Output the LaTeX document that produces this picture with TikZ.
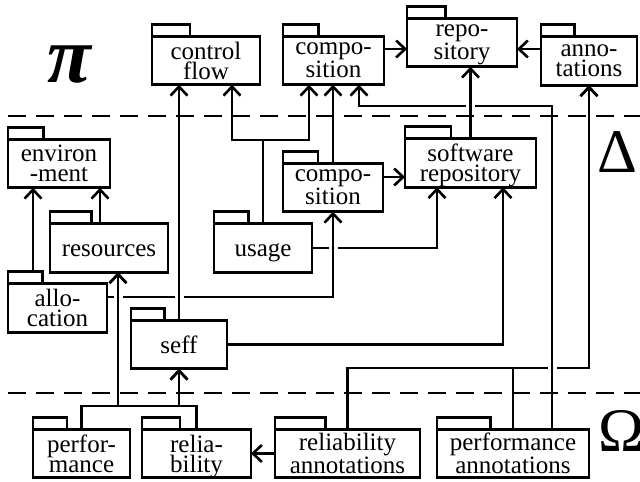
\documentclass[tikz,border=0pt]{standalone}
\usepackage{fontspec}
\setmainfont{Liberation Serif}
\usetikzlibrary{arrows.meta,calc}
\tikzset{
  pkg/.style={draw, line width=2.6pt, rectangle, inner sep=0pt, outer sep=0pt,
    minimum height=48.5pt, align=center, text depth=0pt,
    font=\fontsize{25}{20}\selectfont,
    append after command={\pgfextra{
      \draw[line width=2.6pt] let \p1=(\tikzlastnode.north west),
        \p2=(\tikzlastnode.north east) in
        (\p1) rectangle (0.65*\x1+0.35*\x2, \y1+12pt);}}},
  one/.style={text height=17pt},
  arr/.style={line width=2.6pt, -{Straight Barb[length=9pt,width=17pt]}},
  over/.style={preaction={draw=white, line width=9pt, -, shorten <=6pt, shorten >=6pt}},
  sep/.style={line width=2.6pt, dash pattern=on 18pt off 10pt},
  greek/.style={inner sep=0pt, font=\fontsize{62}{62}\selectfont}
}
\begin{document}
\begin{tikzpicture}[x=1pt,y=-1pt]
  \useasboundingbox (0,0) rectangle (640,482);
  \node[pkg, minimum width=108pt] (cflow) at (206,60.5) {control\\flow};
  \node[pkg, minimum width=101pt] (comptop) at (333.5,60.5) {compo-\\sition};
  \node[pkg, minimum width=110pt] (repo) at (462,42.5) {repo-\\sitory};
  \node[pkg, minimum width=96pt] (annot) at (589,61) {anno-\\tations};
  \node[pkg, minimum width=102pt] (env) at (59,163.5) {environ\\-ment};
  \node[pkg, one, minimum width=118pt] (res) at (109,248) {resources};
  \node[pkg, minimum width=99pt] (alloc) at (57.5,308) {allo-\\cation};
  \node[pkg, one, minimum width=98pt] (usage) at (263,248) {usage};
  \node[pkg, minimum width=100pt] (compmid) at (333,187.5) {compo-\\sition};
  \node[pkg, minimum width=131pt] (softrep) at (470.5,163) {software\\repository};
  \node[pkg, minimum width=96pt] (seff) at (179,344.5) {seff};
  \node[pkg, minimum width=97pt] (perf) at (81.5,453.5) {perfor-\\mance};
  \node[pkg, minimum width=109pt] (rel) at (196.5,453.5) {relia-\\bility};
  \node[pkg, minimum width=145pt] (relannot) at (347.5,453.5) {reliability\\annotations};
  \node[pkg, minimum width=152pt] (perfannot) at (513,453.5) {performance\\annotations};
  \node[greek, font=\fontsize{80}{80}\selectfont\bfseries\itshape] (pi) at (69,64.5) {π};
  \node[greek] (delta) at (617.5,152.5) {Δ};
  \node[greek] (omega) at (622,431) {Ω};
  \draw[arr] (usage.east) -| (softrep.south -| 437,0);
  \draw[arr] (relannot.north) |- (annot.south |- 0,368) -- (annot.south);
  \draw[arr] (perfannot.north) |- (annot.south |- 0,368) -- (annot.south);
  \draw[arr, over] (alloc.east |- 0,297) -| (compmid.south);
  \draw[arr, over] (perf.north) |- (118,406) -- (res.south -| 118,0);
  \draw[arr, over] (seff.north) -- (cflow.south -| seff.north);
  \draw[arr] (perf.north) |- (seff.south |- 0,406) -- (seff.south);
  \draw[arr] (rel.north) |- (seff.south |- 0,406) -- (seff.south);
  \draw[arr] (rel.north) |- (118,406) -- (res.south -| 118,0);
  \draw[arr, over] (perfannot.north -| 552,0) |- (359,106) -- (comptop.south -| 359,0);
  \draw[arr, over] (softrep.north) -- (repo.south -| softrep.north);
  \draw[arr] ($(alloc.north west)+(25,-12)$) -- (env.south -| 33,0);
  \draw[arr] (res.north -| 100,0) -- (env.south -| 100,0);
  \draw[arr] (usage.north) |- (232,140) -- (cflow.south -| 232,0);
  \draw[arr] (usage.north) |- (309,140) -- (comptop.south -| 309,0);
  \draw[arr] (compmid.north) -- (comptop.south -| compmid.north);
  \draw[arr] (compmid.east |- 0,177) -- (softrep.west |- 0,177);
  \draw[arr] (seff.east) -| (softrep.south -| 503,0);
  \draw[arr] (comptop.east |- 0,49) -- (repo.west |- 0,49);
  \draw[arr] (annot.west |- 0,49) -- (repo.east |- 0,49);
  \draw[arr] (relannot.west) -- (rel.east);
  \draw[sep] (8,116) -- (640,116);
  \draw[sep] (8,393) -- (640,393);
\end{tikzpicture}
\end{document}
